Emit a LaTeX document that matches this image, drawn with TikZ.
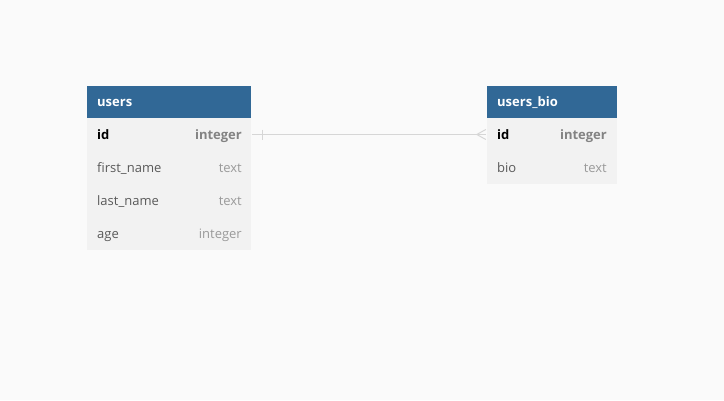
\documentclass[tikz,border=0pt]{standalone}
\usepackage{fontspec}
\setmainfont{Open Sans}
\usetikzlibrary{positioning,calc}
\definecolor{pagebg}{HTML}{FAFAFA}
\definecolor{headblue}{HTML}{316896}
\definecolor{rowgray}{HTML}{F2F2F2}
\definecolor{namegray}{HTML}{5A5A5A}
\definecolor{typegray}{HTML}{9A9A9A}
\definecolor{linkgray}{HTML}{D6D6D6}

\begin{document}
\begin{tikzpicture}[x=1pt,y=-1pt,
    tblhead/.style={rectangle, fill=headblue, inner sep=0pt, minimum height=32pt},
    tblrow/.style={rectangle, fill=rowgray, inner sep=0pt, minimum height=33pt},
    headtext/.style={anchor=base west, inner sep=0pt, text=white, font=\fontsize{13}{15}\selectfont\bfseries},
    colname/.style={anchor=base west, inner sep=0pt, text=namegray, font=\fontsize{13}{15}\selectfont},
    coltype/.style={anchor=base east, inner sep=0pt, text=typegray, font=\fontsize{13}{15}\selectfont},
    keyname/.style={colname, text=black, font=\fontsize{13}{15}\selectfont\bfseries},
    keytype/.style={coltype, text=typegray!85!black, font=\fontsize{13}{15}\selectfont\bfseries},
    link/.style={draw=linkgray, line width=1pt}]
    % page
    \fill[pagebg] (0,0) rectangle (724,400);
    \useasboundingbox (0,0) rectangle (724,400);

    % users
    \node[tblhead, minimum width=164pt] (users) at (169,102) {};
    \node[tblrow, minimum width=164pt] (usersid) at (169,134.5) {};
    \node[tblrow, minimum width=164pt] (usersfirst) at (169,167.5) {};
    \node[tblrow, minimum width=164pt] (userslast) at (169,200.5) {};
    \node[tblrow, minimum width=164pt] (usersage) at (169,233.5) {};
    \node[headtext] (userstitle) at (97,106.5) {users};
    \node[keyname] (usersidname) at (97,139) {id};
    \node[keytype] (usersidtype) at (242,139) {integer};
    \node[colname] (usersfirstname) at (97,172) {first\_name};
    \node[coltype] (usersfirsttype) at (242,172) {text};
    \node[colname] (userslastname) at (97,205) {last\_name};
    \node[coltype] (userslasttype) at (242,205) {text};
    \node[colname] (usersagename) at (97,238) {age};
    \node[coltype] (usersagetype) at (242,238) {integer};

    % users_bio
    \node[tblhead, minimum width=130pt] (bio) at (552,102) {};
    \node[tblrow, minimum width=130pt] (bioid) at (552,134.5) {};
    \node[tblrow, minimum width=130pt] (biobio) at (552,167.5) {};
    \node[headtext] (biotitle) at (497,106.5) {users\_bio};
    \node[keyname] (bioidname) at (497,139) {id};
    \node[keytype] (bioidtype) at (607,139) {integer};
    \node[colname] (biobioname) at (497,172) {bio};
    \node[coltype] (biobiotype) at (607,172) {text};

    % relation: one to many
    \draw[link] ($(usersid.east)+(1,0)$) -- ($(bioid.west)+(-1,0)$);
    \draw[link] ($(usersid.east)+(11,-5)$) -- ($(usersid.east)+(11,5)$);
    \draw[link] ($(bioid.west)+(-1,-5)$) -- ($(bioid.west)+(-10,0)$) -- ($(bioid.west)+(-1,5)$);
\end{tikzpicture}
\end{document}
